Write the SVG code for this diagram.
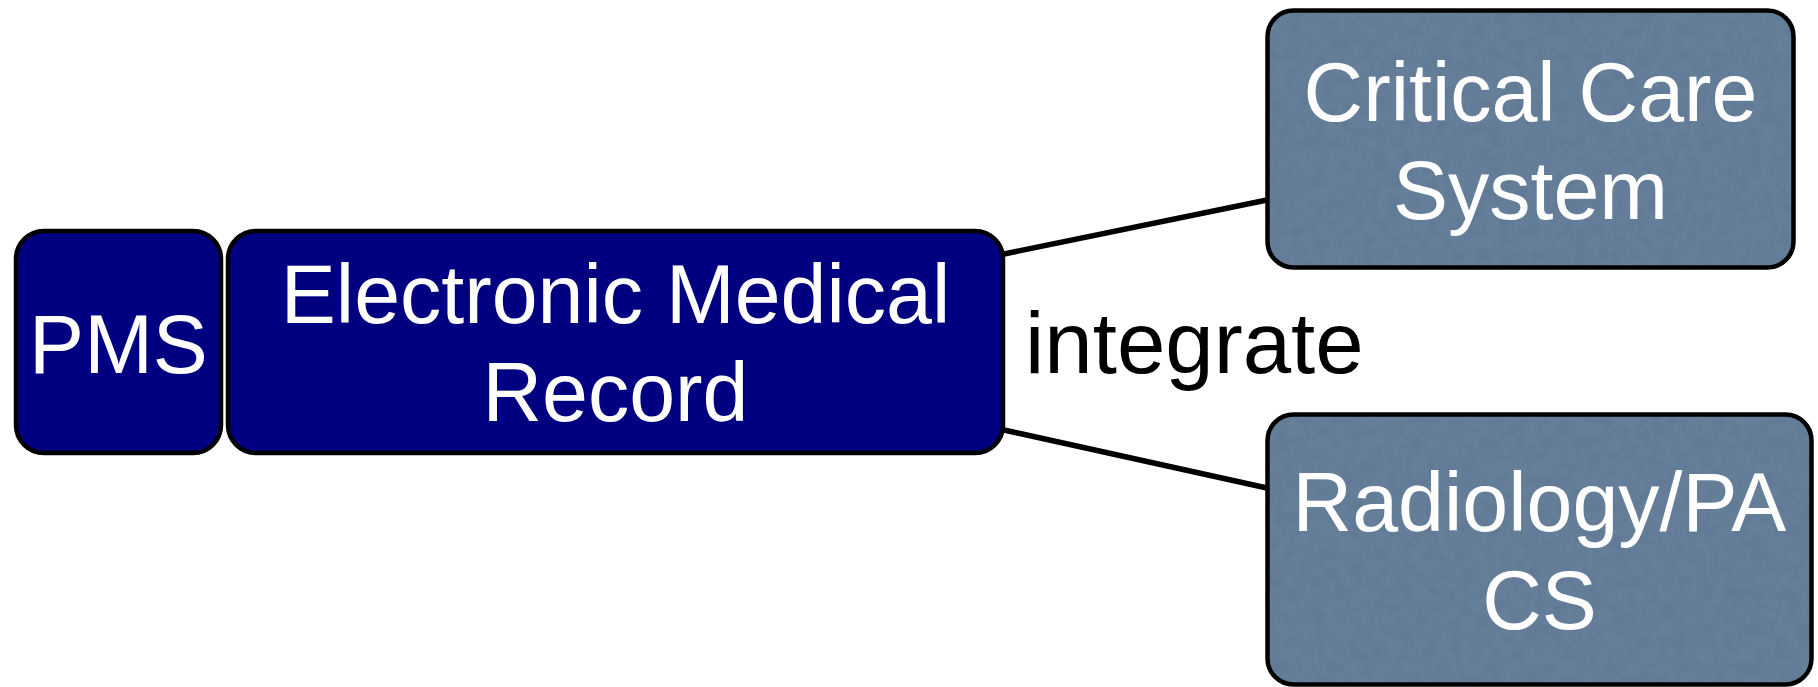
<svg xmlns="http://www.w3.org/2000/svg" width="1818" height="687" viewBox="0 0 1818 687">
  <defs>
    <style>
      .navy { fill: #000080; stroke: #000; stroke-width: 4.5; }
      .greyfill { fill: #5f7894; stroke: none; }
      .greyline { fill: none; stroke: #000; stroke-width: 4.5; }
      .lbl { font-family: "Liberation Sans", Arial, sans-serif; font-size: 82.5px; fill: #fff; text-anchor: middle; }
      .edge { stroke: #000; stroke-width: 5.5; fill: none; }
      .elbl { font-family: "Liberation Sans", Arial, sans-serif; font-size: 87px; fill: #000; }
    </style>
    <filter id="tex" x="0" y="0" width="100%" height="100%">
      <feTurbulence type="fractalNoise" baseFrequency="0.08" numOctaves="2" seed="3" result="n"/>
      <feColorMatrix in="n" type="matrix" values="0 0 0 0 0.37  0 0 0 0 0.47  0 0 0 0 0.58  0 0 0 0.12 0" result="c"/>
      <feComposite in="c" in2="SourceGraphic" operator="in" result="t"/>
      <feMerge><feMergeNode in="SourceGraphic"/><feMergeNode in="t"/></feMerge>
    </filter>
  </defs>
  <rect width="1818" height="687" fill="#fff"/>
  <g id="connectors">
    <line class="edge" x1="1004" y1="254" x2="1267" y2="200"/>
    <line class="edge" x1="1004" y1="430" x2="1267" y2="488"/>
    <text class="elbl" x="1025" y="373">integrate</text>
  </g>
  <g id="pms">
    <rect class="navy" x="16" y="231" width="205" height="222" rx="28" ry="28"/>
    <text class="lbl" x="118.5" y="373">PMS</text>
  </g>
  <g id="emr">
    <rect class="navy" x="228" y="231" width="775" height="222" rx="28" ry="28"/>
    <text class="lbl" x="615.5" y="323">Electronic Medical</text>
    <text class="lbl" x="615.5" y="421">Record</text>
  </g>
  <g id="critical-care">
    <rect class="greyfill" x="1267.5" y="10.5" width="526" height="257" rx="26" ry="26" filter="url(#tex)"/>
    <rect class="greyline" x="1267.5" y="10.5" width="526" height="257" rx="26" ry="26"/>
    <text class="lbl" x="1530.5" y="121">Critical Care</text>
    <text class="lbl" x="1530.5" y="219">System</text>
  </g>
  <g id="radiology">
    <rect class="greyfill" x="1267.5" y="414.5" width="544" height="270" rx="26" ry="26" filter="url(#tex)"/>
    <rect class="greyline" x="1267.5" y="414.5" width="544" height="270" rx="26" ry="26"/>
    <text class="lbl" x="1539.5" y="531">Radiology/PA</text>
    <text class="lbl" x="1539.5" y="629">CS</text>
  </g>
</svg>
